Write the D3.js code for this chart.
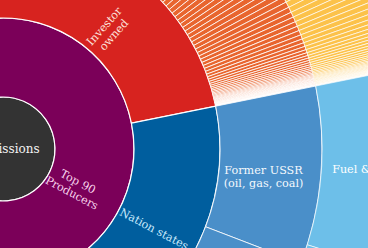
<!DOCTYPE html>
<html>
<head>
<meta charset="utf-8">
<script src="https://cdn.jsdelivr.net/npm/d3@7"></script>
<style>
	html, body { margin: 0; padding: 0; background: #fff; overflow: hidden; }
	svg { display: block; }
	text { font-family: "DejaVu Serif", serif; }
</style>
</head>
<body>
<div id="chart" style="width:368px;height:248px"><svg width="368" height="248"></svg></div>
<script>

// data, cumulative emissions in GtCO2e
const centreLabel = "Emissions";
const otherEmissions = 461;

// investor owned companies, largest first
const investorCompanies = [51.1, 46.7, 35.8, 30.8, 16.9, 11.9,
	5.0, 4.9, 4.8, 4.7, 4.6, 4.5, 4.5, 4.4, 4.4, 4.3, 4.3, 4.2, 4.2, 4.1, 4.0, 3.8,
	3.6, 3.5, 3.4, 3.2, 3.2, 3.0, 2.8, 2.6, 2.4, 2.2, 2.0, 1.8, 1.7, 1.6, 1.5, 1.4, 1.3, 1.2, 1.1, 1.0,
	0.9, 0.8, 0.7, 0.6, 0.6, 0.5, 0.5, 0.5, 0.4, 0.4, 0.4, 0.3, 0.3, 0.3, 0.3,
	0.2, 0.2, 0.2, 0.2, 0.2, 0.1, 0.1, 0.1, 0.1, 0.1, 0.1];

const nationStateNames = ["Former USSR (oil, gas, coal)", "China (coal, cement)", "Poland", "Russian Federation",
	"Kazakhstan", "Czech Republic", "North Korea", "Ukraine", "Others"];
const nationStateValues = [124, 118, 18, 14, 11, 9, 7, 6, 5];

const ussrSplitNames = ["Fuel & flaring", "Methane"];
const ussrSplitValues = [110.5, 13.5];

const stateOwnedValues = [46, 32, 29, 23, 20, 16, 15, 12, 11, 10, 9, 8, 8, 7, 6, 5, 5, 4, 3, 10, 9];

// setup
const width = 368;
const height = 248;
const cx = 3, cy = 149;
const radii = [0, 52, 131, 217, 319, 420];
const rot = -4.3 * Math.PI / 180;

const svg = d3.select("#chart").select("svg");

const palette = {
	"Investor owned": ["#d7231f", "#e8652e", "#fcc24a"],
	"Nation states": ["#005e9e", "#4a8fc9", "#6dbfe9"],
	"State-owned": ["#3f9a3c", "#7fbf4f", "#b8dc7a"]
};

const labelLines = {
	"Top 90 Producers": ["Top 90", "Producers"],
	"Investor owned": ["Investor", "owned"],
	"Nation states": ["Nation states"],
	"Former USSR (oil, gas, coal)": ["Former USSR", "(oil, gas, coal)"],
	"Fuel & flaring": ["Fuel & flaring"]
};
const labelColour = {
	"Top 90 Producers": "#f8d2ec",
	"Investor owned": "#fde0da",
	"Nation states": "#c8e9fb",
	"Former USSR (oil, gas, coal)": "#f4f9fd",
	"Fuel & flaring": "#ffffff"
};
// radial / angular nudges [px, deg]
const labelNudge = {
	"Top 90 Producers": [-10, 2.5],
	"Investor owned": [-15, 4.6],
	"Nation states": [-3, -1.5],
	"Former USSR (oil, gas, coal)": [-6, 1.3]
};

// hierarchy
const tree = {name: centreLabel, children: [
	{name: "Top 90 Producers", children: [
		{name: "Investor owned", children: investorCompanies.map((v, i) => ({
			name: "Company " + (i + 1), children: [{name: "Fuel", value: v}]
		}))},
		{name: "Nation states", children: nationStateNames.map((n, i) => i === 0
			? {name: n, children: ussrSplitNames.map((s, j) => ({name: s, value: ussrSplitValues[j]}))}
			: {name: n, value: nationStateValues[i]})},
		{name: "State-owned", children: stateOwnedValues.map((v, i) => ({name: "State company " + (i + 1), value: v}))}
	]},
	{name: "Other", value: otherEmissions}
]};

const root = d3.hierarchy(tree).sum(d => d.value || 0);
d3.partition().size([2 * Math.PI, radii.length - 1])(root);

const arc = d3.arc()
	.startAngle(d => d.x0 + rot)
	.endAngle(d => d.x1 + rot)
	.innerRadius(d => radii[d.depth])
	.outerRadius(d => radii[d.depth + 1]);

function fill(d) {
	if (d.depth === 0) return "#333333";
	if (d.depth === 1) return d.data.name === "Other" ? "#c8c8c8" : "#7b0059";
	const owner = d.ancestors().find(a => a.depth === 2).data.name;
	return palette[owner][d.depth - 2];
}

const plot = svg.append("g")
	.attr("transform", `translate(${cx}, ${cy})`);

plot.selectAll("path")
  .data(root.descendants())
	.enter()
  .append("path")
	.attr("d", arc)
	.attr("fill", fill)
	.attr("stroke", "#fff")
	.attr("stroke-width", d => d.depth === 4 ? 0.65 : d.depth === 3 ? 0.8 : 1.2);

// labels
const labelled = root.descendants().filter(d => labelLines[d.data.name] && d.depth > 0);
const lh = 12.8;

const labels = plot.selectAll(".segLabel")
  .data(labelled)
	.enter()
  .append("text")
	.attr("class", "segLabel")
	.attr("font-size", 11.2)
	.attr("text-anchor", "middle")
	.attr("fill", d => labelColour[d.data.name])
	.attr("transform", d => {
		const n = labelNudge[d.data.name] || [0, 0];
		const a = (d.x0 + d.x1) / 2 + rot + n[1] * Math.PI / 180;
		const r = (radii[d.depth] + radii[d.depth + 1]) / 2 + n[0];
		const x = r * Math.sin(a);
		const y = -r * Math.cos(a);
		const deg = d.depth <= 2 ? a * 180 / Math.PI - 90 : 0;
		return `translate(${x}, ${y}) rotate(${deg})`;
	});

labels.selectAll("tspan")
  .data(d => labelLines[d.data.name].map((t, i, arr) => ({t, i, n: arr.length})))
	.enter()
  .append("tspan")
	.attr("x", 0)
	.attr("y", d => (d.i - (d.n - 1) / 2) * lh)
	.attr("dy", "0.35em")
	.text(d => d.t);

// centre
plot.append("text")
	.attr("x", 6)
	.attr("y", 0)
	.attr("dy", "0.35em")
	.attr("text-anchor", "middle")
	.attr("font-size", 12)
	.attr("fill", "#f4f4f4")
	.text(centreLabel);

</script>
</body>
</html>
